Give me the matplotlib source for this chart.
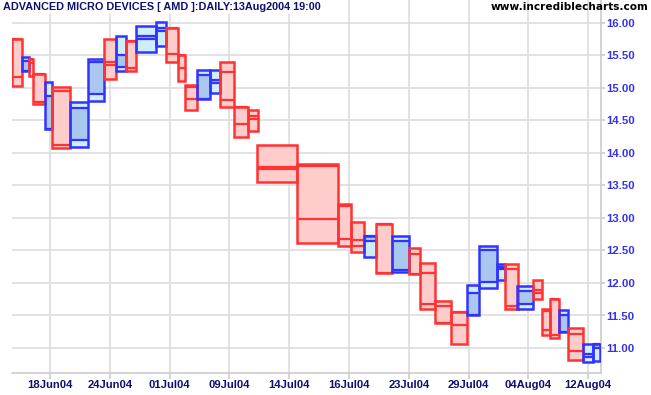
import numpy as np
import matplotlib
matplotlib.use('Agg')
import matplotlib.pyplot as plt
from matplotlib.patches import Rectangle

# dados (AMD diario, caixas de equivolume)
dates = ['14Jun04', '15Jun04', '16Jun04', '17Jun04', '18Jun04',
         '21Jun04', '22Jun04', '23Jun04', '24Jun04', '25Jun04',
         '28Jun04', '29Jun04', '30Jun04', '01Jul04', '02Jul04',
         '06Jul04', '07Jul04', '08Jul04', '09Jul04', '12Jul04',
         '13Jul04', '14Jul04', '15Jul04', '16Jul04', '19Jul04',
         '20Jul04', '21Jul04', '22Jul04', '23Jul04', '26Jul04',
         '27Jul04', '28Jul04', '29Jul04', '30Jul04', '02Aug04',
         '03Aug04', '04Aug04', '05Aug04', '06Aug04', '09Aug04',
         '10Aug04', '11Aug04', '12Aug04', '13Aug04']
opens = [15.76, 15.26, 15.44, 15.21, 14.37, 14.95, 14.20, 14.90, 15.40, 15.33,
         15.73, 15.75, 15.88, 15.92, 15.51, 15.01, 14.83, 15.08, 15.25, 14.71,
         14.57, 13.78, 13.80, 13.19, 12.66, 12.65, 12.91, 12.20, 12.45, 12.16,
         11.65, 11.55, 11.51, 12.02, 12.22, 12.22, 11.67, 11.89, 11.57, 11.76,
         11.24, 11.22, 10.86, 11.00]
highs = [15.76, 15.47, 15.44, 15.21, 15.09, 15.02, 14.79, 15.45, 15.75, 15.80,
         15.73, 15.96, 16.01, 15.92, 15.51, 15.04, 15.28, 15.28, 15.40, 14.71,
         14.66, 14.13, 13.83, 13.22, 12.94, 12.73, 12.91, 12.73, 12.54, 12.31,
         11.73, 11.55, 11.97, 12.57, 12.29, 12.29, 11.95, 12.04, 11.60, 11.76,
         11.59, 11.31, 11.06, 11.06]
lows = [15.03, 15.26, 15.18, 14.75, 14.37, 14.08, 14.09, 14.80, 15.14, 15.26,
        15.26, 15.56, 15.65, 15.40, 15.11, 14.66, 14.83, 14.93, 14.71, 14.25,
        14.34, 13.55, 12.62, 12.57, 12.48, 12.40, 12.15, 12.17, 12.14, 11.60,
        11.39, 11.06, 11.51, 11.93, 12.05, 11.60, 11.60, 11.75, 11.20, 11.15,
        11.24, 10.82, 10.78, 10.80]
closes = [15.17, 15.41, 15.38, 14.78, 14.88, 14.13, 14.69, 15.40, 15.35, 15.51,
          15.31, 15.80, 15.92, 15.52, 15.30, 14.83, 15.20, 15.12, 14.82, 14.45,
          14.52, 13.75, 12.98, 12.67, 12.57, 12.72, 12.15, 12.65, 12.14, 11.68,
          11.39, 11.36, 11.85, 12.50, 12.25, 11.65, 11.88, 11.85, 11.28, 11.20,
          11.51, 10.95, 10.91, 11.06]
volumes = [10.6, 7.0, 4.0, 11.7, 7.0, 18.0, 18.0, 15.5, 12.0, 10.5,
           9.5, 20.8, 10.0, 12.0, 7.2, 11.8, 12.7, 10.0, 14.3, 14.2,
           9.0, 40.0, 40.8, 12.9, 13.1, 11.9, 16.1, 16.4, 11.0, 15.6,
           16.0, 15.4, 12.6, 17.4, 8.5, 12.3, 15.8, 9.0, 7.7, 9.3,
           9.0, 15.0, 10.0, 6.7]
price_ticks = np.arange(11.0, 16.01, 0.5)

RED, PINK = '#ff3333', '#ffcccc'
BLUE, LIGHT_BLUE, BODY_BLUE = '#3333ff', '#cceeff', '#a8c8f0'

fig = plt.figure(figsize=(6.51, 3.95), dpi=100)
ax = fig.add_axes([11.7 / 651, 22 / 395, (601 - 11.7) / 651, 373 / 395])

ends = np.cumsum(volumes)
starts = ends - np.array(volumes)

# caixas: altura = maxima/minima, largura = volume
for x0, v, o, h, l, c in zip(starts, volumes, opens, highs, lows, closes):
    up = c >= o
    edge = BLUE if up else RED
    fill = LIGHT_BLUE if up else PINK
    body = BODY_BLUE if up else PINK
    ax.add_patch(Rectangle((x0, l), v, h - l, facecolor=fill, edgecolor='none', zorder=2))
    ax.add_patch(Rectangle((x0, min(o, c)), v, abs(c - o), facecolor=body,
                           edgecolor='none', zorder=2))
    ax.hlines([o, c], x0, x0 + v, colors=edge, linewidth=1.6, zorder=3)
    ax.add_patch(Rectangle((x0, l), v, h - l, facecolor='none', edgecolor=edge,
                           linewidth=1.8, zorder=3))

# eixo x: rotulos de data a cada ~60 px de volume
tick_pos = np.arange(38.3, ends[-1], 59.8)
tick_lbl = [dates[np.searchsorted(ends, t)] for t in tick_pos]
ax.set_xticks(tick_pos)
ax.set_xticklabels(tick_lbl)
ax.set_yticks(price_ticks)
ax.set_yticklabels(['%.2f' % p for p in price_ticks])

ax.set_xlim(0, 601 - 11.7)
ax.set_ylim(16 - 350 / 65, 16 + 23 / 65)
ax.yaxis.tick_right()
ax.grid(True, color='#dddddd', linewidth=1.2, zorder=0)
ax.set_axisbelow(True)
for side in ['top', 'left']:
    ax.spines[side].set_visible(False)
for side in ['bottom', 'right']:
    ax.spines[side].set_color('#cccccc')
    ax.spines[side].set_linewidth(1.2)
ax.tick_params(axis='x', colors='#cccccc', length=4, width=1.2, pad=1,
               labelcolor='#101070', labelsize=8.1)
ax.tick_params(axis='y', colors='#cccccc', length=3, width=1.2, pad=1,
               labelcolor='#3333f0', labelsize=8.2)
for lbl in ax.get_xticklabels() + ax.get_yticklabels():
    lbl.set_fontfamily('Liberation Sans')
    lbl.set_fontweight('bold')

# titulo e site
fig.text(3 / 651, 1 - 7 / 395, 'ADVANCED MICRO DEVICES [ AMD ]:DAILY:13Aug2004 19:00',
         ha='left', va='center', fontsize=7.8, fontweight='bold', color='#101070',
         family='Liberation Sans',
         bbox=dict(facecolor='white', edgecolor='none', pad=1.5))
fig.text(648 / 651, 1 - 7 / 395, 'www.incrediblecharts.com', ha='right', va='center',
         fontsize=7.6, fontweight='bold', color='black', family='DejaVu Sans')

plt.savefig('out.png', dpi=100)
